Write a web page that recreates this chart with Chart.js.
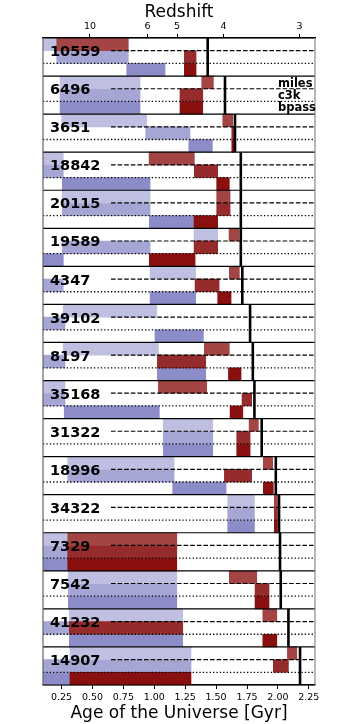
<!DOCTYPE html>
<html>
<head>
<meta charset="utf-8">
<script src="https://cdn.jsdelivr.net/npm/chart.js@4.4.0/dist/chart.umd.min.js"></script>
<style>
  html, body { margin: 0; padding: 0; background: #fff; }
</style>
</head>
<body>
<canvas id="chart" width="350" height="724"></canvas>
<script>
// galaxy IDs, top to bottom
const galaxies = ['10559', '6496', '3651', '18842', '20115', '19589', '4347', '39102',
  '8197', '35168', '31322', '18996', '34322', '7329', '7542', '41232', '14907'];

// age of the universe at each galaxy's redshift (Gyr) - thick black line
const universeAge = [1.432, 1.572, 1.653, 1.70, 1.70, 1.70, 1.712, 1.775,
  1.797, 1.81, 1.869, 1.983, 2.009, 2.017, 2.023, 2.085, 2.179];

// blue intervals (Gyr) per template
const milesBlue = [[0.1, 0.211], [0.238, 0.885], [0.251, 0.939], [0.1, 0.264], [0.256, 0.966],
  [1.322, 1.513], [0.966, 1.335], [0.264, 1.02], [0.264, 1.033], [0.1, 0.278], [1.073, 1.473],
  [0.3, 1.16], [1.594, 1.81], [0.1, 0.3], [0.305, 1.182], [0.313, 1.23], [0.318, 1.297]];
const c3kBlue = [[0.211, 0.79], [0.238, 0.885], [0.931, 1.289], [0.1, 0.264], [0.256, 0.966],
  [0.256, 0.966], [0.1, 0.264], [0.1, 0.278], [0.1, 0.278], [0.1, 0.278], [1.073, 1.473],
  [0.3, 1.16], [1.594, 1.81], [0.1, 0.3], [0.305, 1.182], [0.1, 0.313], [0.1, 1.297]];
const bpassBlue = [[0.777, 1.087], [0.238, 0.885], [1.279, 1.47], [0.256, 0.966], [0.96, 1.322],
  [0.1, 0.264], [0.966, 1.335], [1.006, 1.397], [1.025, 1.416], [0.272, 1.041], [1.073, 1.473],
  [1.149, 1.581], [1.594, 1.81], [0.1, 0.3], [0.305, 1.182], [0.313, 1.23], [0.1, 0.318]];

// red intervals (Gyr) per template
const milesRed = [[0.211, 0.79], [1.384, 1.478], [1.554, 1.635], [0.958, 1.324], [1.505, 1.613],
  [1.605, 1.686], [1.607, 1.688], null, [1.405, 1.607], [1.033, 1.424], [1.767, 1.842],
  [1.882, 1.958], [1.971, 1.996], [0.3, 1.182], [1.607, 1.829], [1.878, 1.991], [2.077, 2.153]];
const c3kRed = [[1.243, 1.338], [1.208, 1.392], [1.627, 1.645], [1.324, 1.513], [1.505, 1.613],
  [1.322, 1.513], [1.33, 1.524], null, [1.025, 1.416], [1.71, 1.788], [1.667, 1.775],
  [1.567, 1.788], [1.971, 1.996], [0.3, 1.182], [1.815, 1.928], [0.313, 1.23], [1.963, 2.085]];
const bpassRed = [[1.243, 1.338], [1.208, 1.392], [1.627, 1.645], [1.505, 1.607], [1.322, 1.513],
  [0.96, 1.33], [1.513, 1.621], null, [1.6, 1.702], [1.613, 1.716], [1.667, 1.775],
  [1.882, 1.963], [1.971, 1.996], [0.3, 1.182], [1.815, 1.928], [1.878, 1.991], [0.318, 1.297]];

// axis ticks
const ageTicks = [0.25, 0.5, 0.75, 1.0, 1.25, 1.5, 1.75, 2.0, 2.25];
const redshiftLabels = ['10', '6', '5', '4', '3'];
const redshiftAges = [0.48, 0.945, 1.185, 1.56, 2.175];

const templates = ['miles', 'c3k', 'bpass'];
const blueColors = ['#bfbfe1', '#a6a6d5', '#8c8cc9'];
const redColors = ['#a34545', '#952b2b', '#8a0f0f'];

Chart.defaults.font.family = '"DejaVu Sans", sans-serif';
Chart.defaults.color = '#000';

// one category per template row
const rowLabels = [];
galaxies.forEach(g => templates.forEach(t => rowLabels.push(g + ' ' + t)));

function spread(arr, k) {
  const out = [];
  arr.forEach(v => { for (let j = 0; j < 3; j++) out.push(j === k ? v : null); });
  return out;
}

const datasets = [];
[milesRed, c3kRed, bpassRed].forEach((s, k) => datasets.push({
  label: templates[k] + ' red', data: spread(s, k), backgroundColor: redColors[k], order: 0
}));
[milesBlue, c3kBlue, bpassBlue].forEach((s, k) => datasets.push({
  label: templates[k] + ' blue', data: spread(s, k), backgroundColor: blueColors[k], order: 1
}));

const panelPlugin = {
  id: 'panels',
  afterDatasetsDraw(chart) {
    const { ctx, chartArea: a, scales: { x, y } } = chart;
    const rowH = y.getPixelForValue(1) - y.getPixelForValue(0);
    const w = a.right - a.left;
    ctx.save();
    ctx.strokeStyle = '#000';
    galaxies.forEach((g, i) => {
      const top = y.getPixelForValue(3 * i) - rowH / 2;
      const yDash = top + rowH, yDot = top + 2 * rowH, bottom = top + 3 * rowH;

      ctx.lineWidth = 1.2;
      ctx.setLineDash([4.6, 2]);
      ctx.beginPath(); ctx.moveTo(a.left + 0.25 * w, yDash); ctx.lineTo(a.right, yDash); ctx.stroke();

      ctx.lineWidth = 1.3;
      ctx.setLineDash([1.3, 2.1]);
      ctx.beginPath(); ctx.moveTo(a.left, yDot); ctx.lineTo(a.right, yDot); ctx.stroke();
      ctx.setLineDash([]);

      const xa = x.getPixelForValue(universeAge[i]);
      ctx.lineWidth = 2.6;
      ctx.beginPath(); ctx.moveTo(xa, top); ctx.lineTo(xa, bottom); ctx.stroke();

      ctx.lineWidth = 1.2;
      ctx.beginPath(); ctx.moveTo(a.left, bottom); ctx.lineTo(a.right, bottom); ctx.stroke();

      ctx.fillStyle = '#000';
      ctx.font = 'bold 14.5px "DejaVu Sans"';
      ctx.textAlign = 'left';
      ctx.textBaseline = 'alphabetic';
      ctx.fillText(g, a.left + 7, yDash + 5.5);
    });

    // frame
    ctx.lineWidth = 1.2;
    ctx.beginPath(); ctx.moveTo(a.left, a.top); ctx.lineTo(a.right, a.top); ctx.stroke();
    ctx.strokeStyle = '#666';
    ctx.beginPath(); ctx.moveTo(a.left, a.top); ctx.lineTo(a.left, a.bottom); ctx.stroke();
    ctx.strokeStyle = '#888';
    ctx.beginPath(); ctx.moveTo(a.right, a.top); ctx.lineTo(a.right, a.bottom); ctx.stroke();

    // template names in the second panel
    ctx.font = 'bold 11.5px "DejaVu Sans"';
    const shift = [4.4, 4.4, 3];
    templates.forEach((t, k) => {
      const cy = y.getPixelForValue(3 + k);
      ctx.fillText(t, a.left + 0.864 * w, cy + shift[k]);
    });
    ctx.restore();
  }
};

new Chart(document.getElementById('chart'), {
  type: 'bar',
  data: { labels: rowLabels, datasets: datasets },
  options: {
    responsive: false,
    animation: false,
    indexAxis: 'y',
    layout: { padding: { left: 43, right: 35, top: 0, bottom: 0 } },
    datasets: {
      bar: { grouped: false, barPercentage: 1, categoryPercentage: 1, borderWidth: 0 }
    },
    plugins: { legend: { display: false }, tooltip: { enabled: false } },
    scales: {
      y: { type: 'category', display: false, offset: true },
      x: {
        type: 'linear', position: 'bottom', min: 0.1, max: 2.3,
        afterBuildTicks: s => { s.ticks = ageTicks.map(v => ({ value: v })); },
        afterFit: s => { s.height = 39; },
        ticks: { callback: v => v.toFixed(2), font: { size: 9.5 }, color: '#000', padding: 3, maxRotation: 0, autoSkip: false },
        grid: { drawOnChartArea: false, tickLength: 4, color: '#000' },
        border: { display: true, color: '#000', width: 1.2 },
        title: { display: true, text: 'Age of the Universe [Gyr]', font: { size: 17 }, color: '#000', padding: { top: 0, bottom: 0 } }
      },
      xTop: {
        type: 'linear', position: 'top', min: 0.1, max: 2.3,
        afterBuildTicks: s => { s.ticks = redshiftAges.map(v => ({ value: v })); },
        afterFit: s => { s.height = 38; },
        ticks: { callback: (v, i) => redshiftLabels[i], font: { size: 9.5 }, color: '#000', padding: 2, maxRotation: 0, autoSkip: false },
        grid: { drawOnChartArea: false, tickLength: 4, color: '#000' },
        border: { display: true, color: '#000', width: 1.2 },
        title: { display: true, text: 'Redshift', font: { size: 17 }, color: '#000', padding: { top: 2, bottom: 0 } }
      }
    }
  },
  plugins: [panelPlugin]
});
</script>
</body>
</html>
